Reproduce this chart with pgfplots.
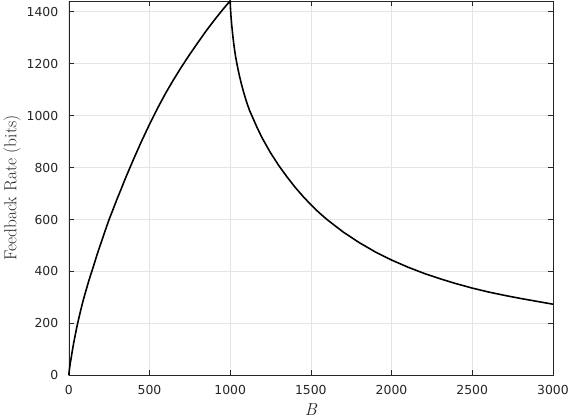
\documentclass[border=0pt]{standalone}
\usepackage{fontspec}
\usepackage{pgfplots}
\pgfplotsset{compat=1.18}
\newfontfamily\dejavu{DejaVu Sans}
\definecolor{axgray}{RGB}{38,38,38}
\definecolor{gridgray}{RGB}{228,228,228}

\begin{document}
\begin{tikzpicture}
\begin{axis}[
  scale only axis, width=486bp, height=376bp,
  xmin=0, xmax=3000, ymin=0, ymax=1442,
  xtick={0,500,...,3000}, ytick={0,200,...,1400},
  tick align=inside, major tick length=5bp,
  axis line style={axgray, line width=0.5pt},
  every tick/.style={axgray, line width=0.5pt},
  grid=major, grid style={gridgray, line width=0.6pt},
  /pgf/number format/assume math mode=true,
  /pgf/number format/1000 sep={},
  ticklabel style={font=\dejavu\fontsize{12.5}{15}\selectfont, text=axgray},
  yticklabel style={xshift=-7bp},
  xticklabel style={yshift=-6bp},
  xlabel={{\itshape B}}, ylabel={Feedback Rate (bits)},
  label style={font=\fontsize{17.5}{20}\selectfont, text=axgray},
  xlabel style={at={(axis description cs:0.5,0)}, anchor=center, yshift=-34bp},
  ylabel style={at={(axis description cs:0,0.5)}, anchor=center, yshift=57bp},
  clip=false]
  % rising branch, B <= 1000
  \addplot[black, line width=1.6pt, line join=round] coordinates {
    (0,0) (2,12) (5,27) (10,50) (15,67) (20,87) (30,123) (40,155) (50,186)
    (60,214) (75,253) (90,290) (100,312) (125,366) (150,414) (175,464)
    (200,510) (225,556) (250,600) (275,640) (300,680) (325,718) (350,757)
    (400,830) (450,900) (500,966) (550,1028) (600,1086) (650,1139)
    (700,1189) (750,1236) (800,1281) (850,1325) (900,1366) (950,1405)
    (1000,1442)
  % falling branch, B > 1000
    (1002,1414) (1005,1384) (1010,1347) (1018,1299) (1025,1264) (1033,1230)
    (1043,1196) (1055,1160) (1070,1121) (1085,1087) (1100,1056) (1120,1020)
    (1140,992) (1170,950) (1200,912) (1250,857) (1300,809) (1350,766)
    (1400,726) (1450,690) (1500,657) (1550,627) (1600,600) (1700,552)
    (1800,511) (1900,475) (2000,444) (2100,417) (2200,393) (2300,372)
    (2400,353) (2500,336) (2600,321) (2700,308) (2800,296) (2900,285)
    (3000,274)};
\end{axis}
\end{tikzpicture}
\end{document}
